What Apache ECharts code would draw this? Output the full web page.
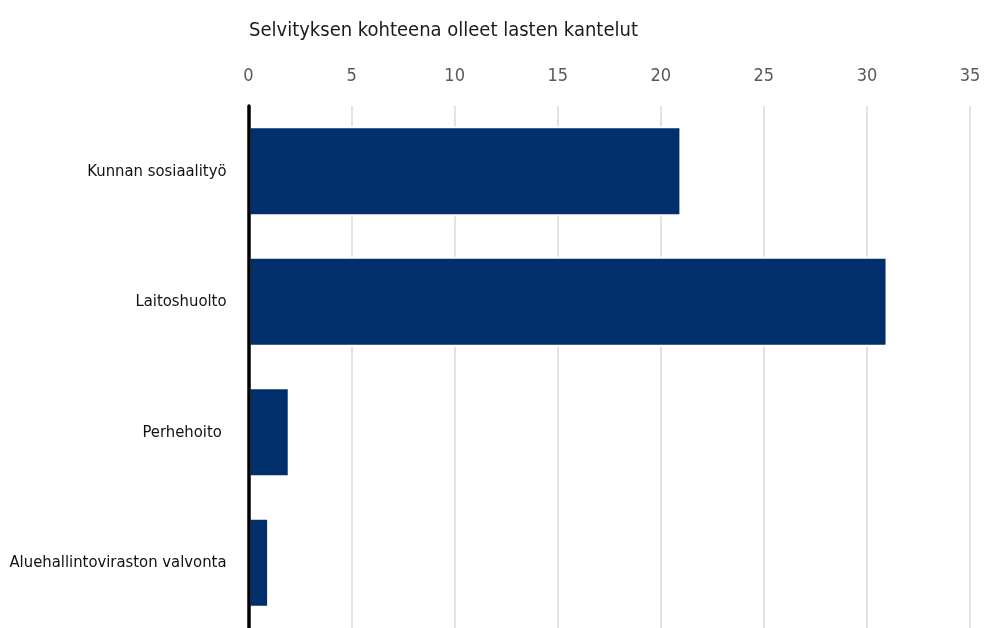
<!DOCTYPE html>
<html><head><meta charset="utf-8">
<script src="https://cdn.jsdelivr.net/npm/echarts@6/dist/echarts.min.js"></script>
<style>html,body{margin:0;padding:0;background:#fff}#c{width:984px;height:628px}</style>
</head><body><div id="c"></div>
<script>
const titleText = 'Selvityksen kohteena olleet lasten kantelut';
const categories = ['Kunnan sosiaalityö', 'Laitoshuolto', 'Perhehoito ', 'Aluehallintoviraston valvonta'];
const values = [21, 31, 2, 1];
const xTicks = [0, 5, 10, 15, 20, 25, 30, 35];
const FONT = '"Liberation Sans Narrow", "DejaVu Sans Condensed", "Noto Sans", sans-serif';
const chart = echarts.init(document.getElementById('c'), null, {renderer: 'canvas'});
chart.setOption({
  animation: false,
  backgroundColor: '#fff',
  title: {text: titleText, left: 244, top: 16,
    textStyle: {fontFamily: FONT, fontSize: 20, fontWeight: 'normal', color: '#1a1a1a'}},
  grid: {left: 248.5, right: 14, top: 106, bottom: -4, containLabel: false},
  xAxis: {type: 'value', position: 'top', min: xTicks[0], max: xTicks[xTicks.length - 1], interval: 5,
    axisLine: {show: false}, axisTick: {show: false},
    axisLabel: {fontFamily: FONT, fontSize: 18, color: '#595959', margin: 21},
    splitLine: {show: true, lineStyle: {color: '#d9d9d9', width: 1.5}}},
  yAxis: {type: 'category', inverse: true, data: categories, z: 10,
    axisLine: {show: true, lineStyle: {color: '#000', width: 3.5}}, axisTick: {show: false},
    axisLabel: {fontFamily: FONT, fontSize: 16.5, color: '#111', margin: 22}},
  series: [{type: 'bar', data: values, barWidth: '69%',
    itemStyle: {color: '#002f6c', borderColor: '#fff', borderWidth: 2}}]
});
</script></body></html>
